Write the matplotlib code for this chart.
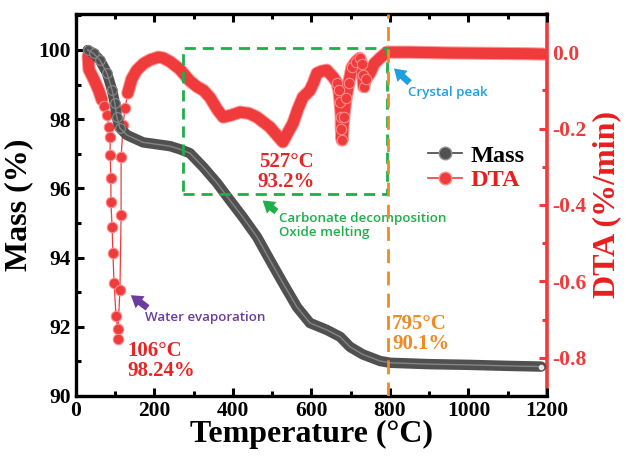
import numpy as np
import matplotlib
matplotlib.use("Agg")
import matplotlib.pyplot as plt
from matplotlib.lines import Line2D
from matplotlib.patches import Rectangle
from matplotlib.ticker import MultipleLocator, FuncFormatter

plt.rcParams['font.family'] = ['Liberation Serif', 'DejaVu Serif']
plt.rcParams['font.weight'] = 'bold'

# Mass (%) vs temperature
mass_T = [30, 45, 61, 79, 92, 99, 104, 112, 130, 171, 240, 265, 290, 324, 359, 392,
          425, 461, 494, 527, 563, 596, 639, 673, 698, 731, 775, 800, 900, 1000,
          1100, 1185]
mass_V = [100.0, 99.9, 99.71, 99.33, 98.84, 98.46, 98.06, 97.74, 97.54, 97.33, 97.22,
          97.13, 97.02, 96.62, 96.16, 95.66, 95.17, 94.6, 93.93, 93.27, 92.57, 92.11,
          91.91, 91.71, 91.42, 91.2, 91.01, 90.96, 90.92, 90.9, 90.87, 90.85]

# DTA (%/min) vs temperature
dta_T = [31, 33, 45, 58, 66, 72, 79, 84, 87, 87, 89, 89, 92, 94, 97, 102, 106, 106,
         112, 115, 115, 120, 125, 132, 142, 155, 172, 189, 210, 222, 240, 265, 273,
         290, 308, 325, 341, 360, 375, 395, 418, 440, 461, 480, 494, 510, 527, 540,
         553, 565, 578, 596, 605, 614, 625, 639, 655, 665, 670, 673, 676, 676, 678,
         682, 688, 695, 703, 713, 723, 728, 731, 733, 738, 749, 760, 775, 792, 850,
         950, 1050, 1150, 1190]
dta_V = [-0.01, -0.045, -0.07, -0.1, -0.125, -0.14, -0.165, -0.196, -0.222, -0.269,
         -0.329, -0.392, -0.457, -0.525, -0.604, -0.69, -0.725, -0.75, -0.622, -0.426,
         -0.275, -0.19, -0.146, -0.107, -0.07, -0.047, -0.03, -0.02, -0.013, -0.015,
         -0.025, -0.045, -0.055, -0.075, -0.09, -0.1, -0.118, -0.15, -0.17, -0.165,
         -0.157, -0.16, -0.17, -0.185, -0.196, -0.215, -0.235, -0.21, -0.186, -0.15,
         -0.118, -0.1, -0.08, -0.055, -0.05, -0.047, -0.065, -0.08, -0.1, -0.13, -0.17,
         -0.2, -0.23, -0.17, -0.12, -0.08, -0.04, -0.025, -0.016, -0.03, -0.06, -0.09,
         -0.07, -0.055, -0.03, -0.015, 0.0, 0.0, -0.002, -0.003, -0.004, -0.005]

x_ticks = [0, 200, 400, 600, 800, 1000, 1200]
mass_ticks = [90, 92, 94, 96, 98, 100]
dta_ticks = [-0.8, -0.6, -0.4, -0.2, 0.0]

RED = '#ef3b3b'
GRAY = '#505050'
ORANGE = '#f08a24'
GREEN = '#1fae4a'
BLUE = '#1f9fe0'
PURPLE = '#6a3ca0'

fig = plt.figure(figsize=(6.3, 4.59), dpi=100)
ax = fig.add_axes([0.1206, 0.1373, 0.7476, 0.8322])
ax2 = ax.twinx()
ax.set_zorder(ax2.get_zorder() + 1)
ax.patch.set_visible(False)

# DTA curve: smooth band where points are dense, single spheres in the sharp dips
dT = np.array(dta_T)
dV = np.array(dta_V)
band = (dT >= 130) | (dT <= 70)
spheres = ~band | ((dT >= 662) & (dT <= 740))
ax2.plot(dT, dV, '-', color=RED, lw=0.9)
ax2.plot(np.where(band, dT, np.nan), np.where(band, dV, np.nan), '-', color='#ff9a9a',
         lw=9.5, solid_capstyle='round', solid_joinstyle='round')
ax2.plot(np.where(band, dT, np.nan), np.where(band, dV, np.nan), '-', color=RED,
         lw=8, solid_capstyle='round', solid_joinstyle='round')
ax2.plot(dT[spheres], dV[spheres], 'o', ms=7.5, mfc=RED, mec='#ff8a8a', mew=0.8,
         ls='none')

# Mass curve
mT = np.array(mass_T)
mV = np.array(mass_V)
early = mT <= 125
ax.plot(mT, mV, '-', color=GRAY, lw=7.5, solid_capstyle='round',
        solid_joinstyle='round')
ax.plot(mT[early], mV[early], 'o', ms=7, mfc=GRAY, mec='#8c8c8c', mew=0.8, ls='none')
ax.plot(mT, mV, '-', color='#858585', lw=1.0, solid_joinstyle='round')
ax.plot(mT[-1], mV[-1], 'o', ms=3, color='#e8e8e8')

ax.set_xlim(0, 1200)
ax.set_ylim(90, 101.04)
ax2.set_ylim(-0.9, 0.1)

ax.set_xticks(x_ticks)
ax.set_yticks(mass_ticks)
ax2.set_yticks(dta_ticks)
ax.xaxis.set_minor_locator(MultipleLocator(100))
ax.yaxis.set_minor_locator(MultipleLocator(1))
ax2.yaxis.set_minor_locator(MultipleLocator(0.1))
ax2.yaxis.set_major_formatter(FuncFormatter(lambda v, p: f"{v:.1f}".replace('\u2212', '-')))

ax.tick_params(axis='both', which='both', direction='in', top=True, right=False,
               labelsize=15.5, width=2.2, colors='black')
ax.tick_params(which='major', length=6)
ax.tick_params(which='minor', length=3.5)
ax2.tick_params(axis='y', which='both', direction='in', width=2.2, colors=RED,
                labelsize=15.5)
ax2.tick_params(which='major', length=6)
ax2.tick_params(which='minor', length=3.5)
for lab in ax.get_xticklabels() + ax.get_yticklabels() + ax2.get_yticklabels():
    lab.set_fontweight('bold')

for s in ['left', 'bottom', 'top']:
    ax.spines[s].set_linewidth(2.4)
ax.spines['right'].set_visible(False)
ax2.spines['right'].set_color(RED)
ax2.spines['right'].set_linewidth(2.6)
for s in ['left', 'bottom', 'top']:
    ax2.spines[s].set_visible(False)

ax.set_xlabel('Temperature (°C)', fontsize=23, fontweight='bold', labelpad=-1)
ax.set_ylabel('Mass (%)', fontsize=23, fontweight='bold', labelpad=4)
ax2.set_ylabel('DTA (%/min)', fontsize=23, fontweight='bold', color='#e81e1e',
               labelpad=4)

# annotations
ax.add_patch(Rectangle((273, 95.84), 519, 4.22, fill=False, ec=GREEN, lw=2,
                       ls=(0, (4, 2.5)), zorder=5))
ax.axvline(795, color=ORANGE, lw=2, ls=(0, (5, 3)), zorder=5)

ax.text(535, 96.47, '527°C\n93.2%', color='#e82525', fontsize=15, fontweight='bold',
        ha='center', va='center', linespacing=1.0)
ax.text(132, 91.01, '106°C\n98.24%', color='#e82525', fontsize=15, fontweight='bold',
        ha='left', va='center', linespacing=1.0)
ax.text(805, 91.79, '795°C\n90.1%', color=ORANGE, fontsize=15, fontweight='bold',
        ha='left', va='center', linespacing=1.0)

sans = ['Open Sans', 'DejaVu Sans']
ax.text(846, 98.76, 'Crystal peak', color=BLUE, fontsize=9.6, family=sans,
        fontweight='semibold', ha='left', va='center')
ax.text(517, 95.32, 'Carbonate decomposition\nOxide melting', color=GREEN,
        fontsize=9.6, family=sans, fontweight='semibold', ha='left', va='top',
        linespacing=1.1)
ax.text(176, 92.28, 'Water evaporation', color=PURPLE, fontsize=9.6, family=sans,
        fontweight='semibold', ha='left', va='center')

arrow = dict(arrowstyle='simple,head_width=0.9,head_length=0.7,tail_width=0.4',
             lw=0, mutation_scale=12)
ax.annotate('', xy=(805, 99.52), xytext=(855, 99.0),
            arrowprops=dict(arrow, color=BLUE))
ax.annotate('', xy=(470, 95.7), xytext=(516, 95.28),
            arrowprops=dict(arrow, color=GREEN))
ax.annotate('', xy=(134, 92.96), xytext=(188, 92.5),
            arrowprops=dict(arrow, color=PURPLE))

handles = [Line2D([], [], color='#444444', lw=1.2, marker='o', ms=9, mfc=GRAY,
                  mec='#8c8c8c'),
           Line2D([], [], color=RED, lw=1.2, marker='o', ms=9, mfc=RED,
                  mec='#ff8a8a')]
leg = ax.legend(handles, ['Mass', 'DTA'], loc='upper left',
                bbox_to_anchor=(0.7, 0.715), frameon=False, handlelength=1.4,
                handletextpad=0.35, labelspacing=0.1,
                prop={'size': 17.5, 'weight': 'bold'})
leg.get_texts()[0].set_color('black')
leg.get_texts()[1].set_color('#e81e1e')

fig.savefig('out.png', dpi=100)
